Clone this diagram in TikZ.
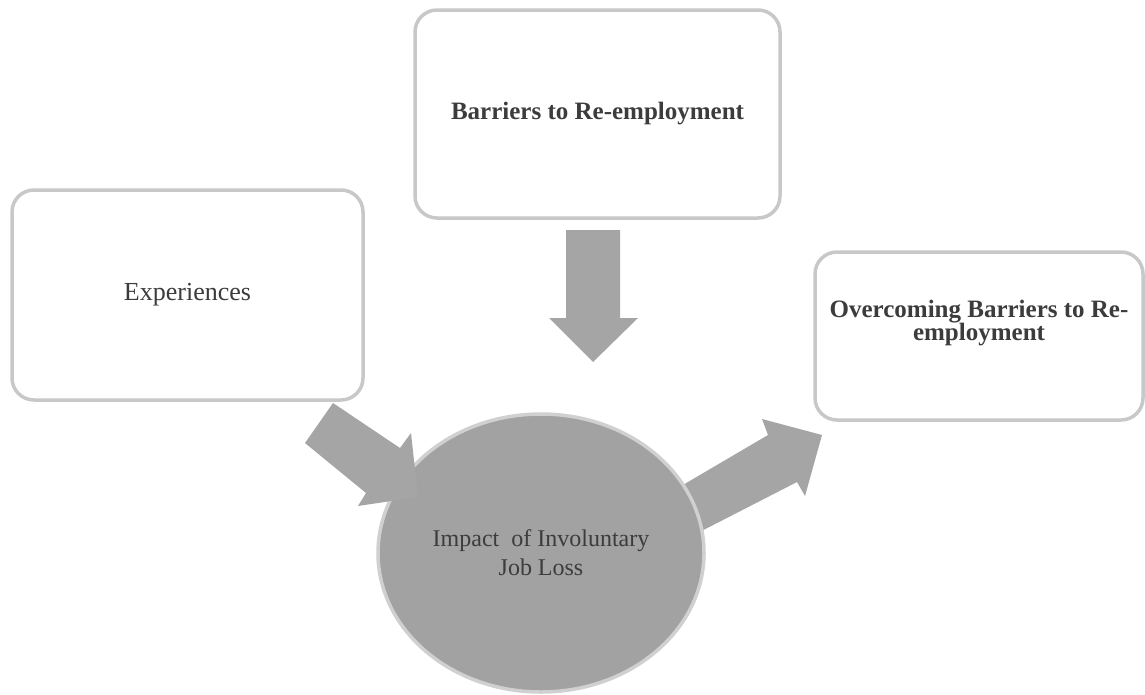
\documentclass[tikz,border=0pt]{standalone}
\usepackage{fontspec}
\setmainfont{Liberation Serif}
\usetikzlibrary{shapes.geometric}
\definecolor{boxline}{HTML}{C8C8C8}
\definecolor{shapefill}{HTML}{A5A5A5}
\definecolor{ellfill}{HTML}{A2A2A2}
\definecolor{txt}{HTML}{3C3C3C}
\tikzset{
  roundbox/.style={draw=boxline, line width=3.5pt, rounded corners=22pt, fill=white,
    inner sep=0pt, text=txt, align=center, font=\fontsize{25}{23}\selectfont\bfseries},
  boxtext/.style={inner sep=0pt, text=txt, align=center, font=\fontsize{25}{21}\selectfont\bfseries},
  blockarrow/.style={fill=shapefill, draw=none},
  centerell/.style={ellipse, draw=boxline!85, line width=3.5pt, fill=ellfill, inner sep=0pt,
    text=txt, align=center, font=\fontsize{24}{29}\selectfont}
}
\begin{document}
\begin{tikzpicture}[x=1pt,y=-1pt]
\useasboundingbox (0,0) rectangle (1145,694);
% boxes
\node[roundbox, minimum width=365pt, minimum height=208pt] (barriers) at (597.5,114) {Barriers to Re-employment};
\node[roundbox, minimum width=351pt, minimum height=210pt, font=\fontsize{26}{28}\selectfont] (exp) at (187.5,295) {Experiences};
\node[roundbox, minimum width=328pt, minimum height=168pt] (over) at (979,336) {};
\node[boxtext] (overtext) at ([yshift=13pt]over.center) {Overcoming Barriers to Re-\\employment};
% right arrow (under ellipse)
\fill[blockarrow] (659,499) -- (768,435) -- (762,419) -- (822,435) -- (805,496) -- (797,482) -- (684,540) -- cycle;
% down arrow
\fill[blockarrow] (566,230) -- (620,230) -- (620,318) -- (638,318) -- (593,362) -- (549,318) -- (566,318) -- cycle;
% central ellipse
\node[centerell, minimum width=326pt, minimum height=278pt] (impact) at (541,553) {Impact\ \ of Involuntary\\Job Loss};
% left arrow (over ellipse)
\fill[blockarrow] (333,403) -- (400,448) -- (411,433) -- (418,497) -- (358,506) -- (366,493) -- (305,443) -- cycle;
\end{tikzpicture}
\end{document}
